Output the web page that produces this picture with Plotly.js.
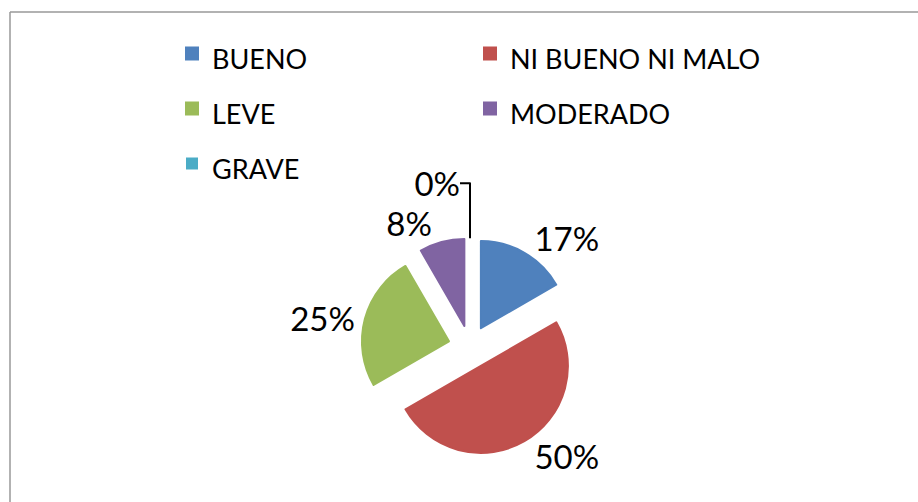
<!DOCTYPE html>
<html>
<head>
<meta charset="utf-8">
<script src="https://cdn.plot.ly/plotly-3.0.1.min.js"></script>
<style>html,body{margin:0;padding:0;background:#fff;}#chart{width:918px;height:502px;}</style>
</head>
<body>
<div id="chart"></div>
<script>
const categories = ["BUENO", "NI BUENO NI MALO", "LEVE", "MODERADO", "GRAVE"];
const counts = [2, 6, 3, 1, 0];
const sliceColors = ["#4F81BD", "#C0504D", "#9BBB59", "#8064A2", "#4BACC6"];

const W = 918, H = 502;
const MR = 100;            // right margin keeps the legend at two columns
const PW = W - MR;         // plot-area width
const cx = 470, cy = 347, half = 108.8;

const trace = {
  type: "pie",
  labels: categories.map(c => '<span style="font-size:27px">' + c + '</span>'),
  values: counts,
  marker: {
    colors: sliceColors,
    line: { width: counts.map(v => (v > 0 ? 2 : 0)), color: sliceColors }
  },
  sort: false,
  direction: "clockwise",
  rotation: 0,
  pull: categories.map(() => 0.25),
  textinfo: "percent",
  texttemplate: "%{percent:.0%}",
  textposition: "outside",
  outsidetextfont: { family: "Lato, sans-serif", size: 33, color: "#000" },
  hoverinfo: "none",
  domain: { x: [(cx - half) / PW, (cx + half) / PW], y: [1 - (cy + half) / H, 1 - (cy - half) / H] }
};

const layout = {
  width: W, height: H,
  margin: { l: 0, r: MR, t: 0, b: 0 },
  paper_bgcolor: "#fff",
  font: { family: "Lato, sans-serif", color: "#000" },
  showlegend: true,
  legend: {
    orientation: "h",
    x: 172 / PW, xanchor: "left",
    y: 1 - 21 / H, yanchor: "top",
    maxheight: 1,
    bgcolor: "rgba(0,0,0,0)",
    font: { family: "Lato, sans-serif", size: 40, color: "#000" },
    entrywidth: 253, entrywidthmode: "pixels",
    traceorder: "normal"
  },
  shapes: [
    { type: "line", xref: "paper", yref: "paper", x0: 10 / PW, x1: 10 / PW, y0: 1 - 12 / H, y1: -0.05, line: { color: "#989898", width: 1.5 } },
    { type: "line", xref: "paper", yref: "paper", x0: 10 / PW, x1: (W + 20) / PW, y0: 1 - 12 / H, y1: 1 - 12 / H, line: { color: "#989898", width: 1.5 } }
  ]
};

Plotly.newPlot("chart", [trace], layout, { displayModeBar: false, staticPlot: true });
</script>
</body>
</html>
